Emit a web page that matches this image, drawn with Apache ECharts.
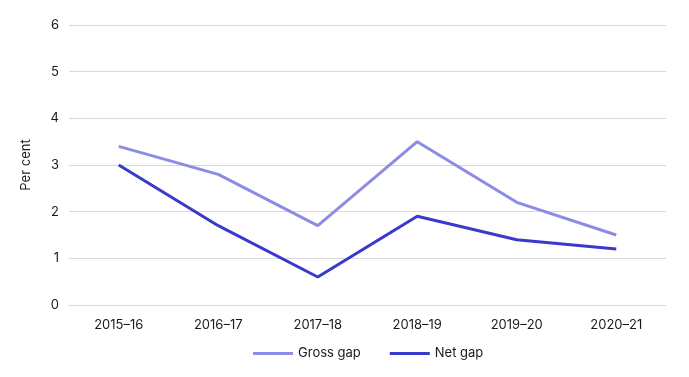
<!DOCTYPE html>
<html>
<head>
<meta charset="utf-8">
<script src="https://cdn.jsdelivr.net/npm/echarts@6/dist/echarts.min.js"></script>
<style>
  html, body { margin: 0; padding: 0; background: #fff; }
  #main { width: 689px; height: 377px; }
</style>
</head>
<body>
<div id="main"></div>
<script>
const years = ["2015–16", "2016–17", "2017–18", "2018–19", "2019–20", "2020–21"];
const grossGap = [3.4, 2.8, 1.7, 3.5, 2.2, 1.5];
const netGap = [3.0, 1.7, 0.6, 1.9, 1.4, 1.2];

const myChart = echarts.init(document.getElementById("main"));

const option = {
  animation: false,
  textStyle: { fontFamily: "Inter", color: "#1a1a1a" },
  grid: { left: 69, right: 23, top: 25, bottom: 72 },
  legend: {
    bottom: 12,
    left: 248,
    itemWidth: 40,
    itemHeight: 3,
    itemGap: 29,
    icon: "rect",
    textStyle: { fontFamily: "Inter", fontSize: 13, color: "#1a1a1a" },
    data: ["Gross gap", "Net gap"],
  },
  xAxis: {
    type: "category",
    data: years,
    boundaryGap: true,
    axisLine: { lineStyle: { color: "#d9d9d9" } },
    axisTick: { alignWithLabel: true, length: 8, lineStyle: { color: "#d9d9d9" } },
    axisLabel: { fontFamily: "Inter", fontSize: 13, color: "#1a1a1a", margin: 14 },
  },
  yAxis: {
    type: "value",
    min: 0,
    max: 6,
    interval: 1,
    name: "Per cent",
    nameLocation: "middle",
    nameGap: 36,
    nameTextStyle: { fontFamily: "Inter", fontSize: 13, color: "#1a1a1a" },
    axisLabel: { fontFamily: "Inter", fontSize: 13, color: "#1a1a1a", margin: 10 },
    splitLine: { lineStyle: { color: "#d9d9d9" } },
  },
  series: [
    {
      name: "Gross gap",
      type: "line",
      data: grossGap,
      showSymbol: false,
      lineStyle: { width: 3, color: "#8c8ce6" },
      itemStyle: { color: "#8c8ce6" },
    },
    {
      name: "Net gap",
      type: "line",
      data: netGap,
      showSymbol: false,
      lineStyle: { width: 3, color: "#3939cc" },
      itemStyle: { color: "#3939cc" },
    },
  ],
};

myChart.setOption(option);
</script>
</body>
</html>
